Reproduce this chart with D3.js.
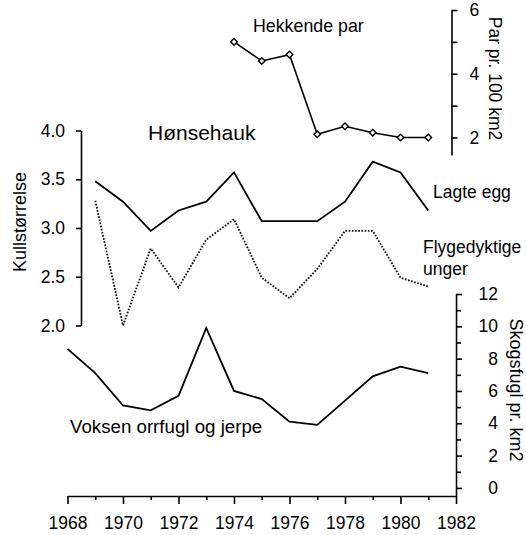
<!DOCTYPE html>
<html>
<head>
<meta charset="utf-8">
<script src="https://cdn.jsdelivr.net/npm/d3@7"></script>
<style>
  html, body { margin: 0; padding: 0; background: #fff; }
  svg { display: block; }
  text { font-family: "Liberation Sans", Arial, sans-serif; fill: #000; }
</style>
</head>
<body>
<svg id="chart" width="526" height="535"></svg>
<script>
// ---- data ----
const kullYears = [1969, 1970, 1971, 1972, 1973, 1974, 1975, 1976, 1977, 1978, 1979, 1980, 1981];
const lagteEgg = [3.48, 3.27, 2.97, 3.18, 3.27, 3.57, 3.07, 3.07, 3.07, 3.27, 3.68, 3.57, 3.18];
const flygedyktigeUnger = [3.28, 2.0, 2.79, 2.39, 2.88, 3.09, 2.49, 2.28, 2.58, 2.97, 2.97, 2.49, 2.40];
const skogYears = [1968, 1969, 1970, 1971, 1972, 1973, 1974, 1975, 1976, 1977, 1978, 1979, 1980, 1981];
const skogsfugl = [8.6, 7.1, 5.1, 4.8, 5.7, 9.9, 6.0, 5.5, 4.1, 3.9, 5.4, 6.9, 7.5, 7.1];
const hekkYears = [1974, 1975, 1976, 1977, 1978, 1979, 1980, 1981];
const hekkendePar = [5.0, 4.4, 4.6, 2.1, 2.35, 2.15, 2.0, 2.0];

const xTickLabels = [1968, 1970, 1972, 1974, 1976, 1978, 1980, 1982];
const xMinorTicks = [1969, 1971, 1973, 1975, 1977, 1979, 1981];
const kullTicks = [2.0, 2.5, 3.0, 3.5, 4.0];
const parTicks = [2, 4, 6];
const parMinor = [3, 5];
const skogTicks = [0, 2, 4, 6, 8, 10, 12];
const skogMinor = [1, 3, 5, 7, 9, 11];

// ---- layout ----
const svg = d3.select("#chart");
const FONT = 17.5;
const xAxisY = 496;

const x = d3.scaleLinear().domain([1968, 1982]).range([67.5, 456]);
const yK = d3.scaleLinear().domain([2.0, 4.0]).range([325.5, 130.5]);
const yP = d3.scaleLinear().domain([1.45, 6]).range([155, 10]);
const yS = d3.scaleLinear().domain([-0.5, 12]).range([xAxisY, 294]);

function styleAxis(g, fs) {
  g.attr("font-family", null).attr("font-size", null);
  g.selectAll("path.domain").attr("stroke", "#000").attr("stroke-width", 1.6);
  g.selectAll(".tick line").attr("stroke", "#000").attr("stroke-width", 1.6);
  g.selectAll(".tick text").attr("font-size", fs).style("fill", "#000");
}

// x axis
const gx = svg.append("g").attr("transform", `translate(0,${xAxisY})`)
  .call(d3.axisBottom(x).tickValues(xTickLabels).tickSize(8).tickSizeOuter(0)
    .tickPadding(13).tickFormat(d3.format("d")));
styleAxis(gx, FONT);
const gxm = svg.append("g").attr("transform", `translate(0,${xAxisY})`)
  .call(d3.axisBottom(x).tickValues(xMinorTicks).tickSize(4).tickFormat(""));
gxm.select("path.domain").remove();
styleAxis(gxm, FONT);

// left axis (Kullstørrelse)
const gk = svg.append("g").attr("transform", "translate(81,0)")
  .call(d3.axisLeft(yK).tickValues(kullTicks).tickSize(5).tickSizeOuter(0)
    .tickPadding(11).tickFormat(d3.format(".1f")));
styleAxis(gk, FONT);

// top right axis (Par pr. 100 km2)
const gp = svg.append("g").attr("transform", "translate(451.5,0)")
  .call(d3.axisRight(yP).tickValues(parTicks).tickSize(6).tickSizeOuter(0)
    .tickPadding(12).tickFormat(d3.format("d")));
styleAxis(gp, FONT);
const gpm = svg.append("g").attr("transform", "translate(451.5,0)")
  .call(d3.axisRight(yP).tickValues(parMinor).tickSize(6).tickFormat(""));
gpm.select("path.domain").remove();
styleAxis(gpm, FONT);

// bottom right axis (Skogsfugl pr. km2)
const gs = svg.append("g").attr("transform", "translate(456,0)")
  .call(d3.axisRight(yS).tickValues(skogTicks).tickSize(6).tickSizeOuter(0)
    .tickPadding(36).tickFormat(d3.format("d")));
styleAxis(gs, FONT);
gs.selectAll(".tick text").attr("text-anchor", "end").attr("x", 42);
const gsm = svg.append("g").attr("transform", "translate(456,0)")
  .call(d3.axisRight(yS).tickValues(skogMinor).tickSize(5).tickFormat(""));
gsm.select("path.domain").remove();
styleAxis(gsm, FONT);

// ---- lines ----
const lineK = (vals, yrs) => d3.line().x((d, i) => x(yrs[i])).y(d => yK(d))(vals);

svg.append("path").attr("d", lineK(lagteEgg, kullYears))
  .attr("fill", "none").attr("stroke", "#000").attr("stroke-width", 1.8)
  .attr("stroke-linejoin", "miter");

svg.append("path").attr("d", lineK(flygedyktigeUnger, kullYears))
  .attr("fill", "none").attr("stroke", "#000").attr("stroke-width", 1.8)
  .attr("stroke-dasharray", "1.6,1.6");

svg.append("path")
  .attr("d", d3.line().x((d, i) => x(skogYears[i])).y(d => yS(d))(skogsfugl))
  .attr("fill", "none").attr("stroke", "#000").attr("stroke-width", 1.8);

svg.append("path")
  .attr("d", d3.line().x((d, i) => x(hekkYears[i])).y(d => yP(d))(hekkendePar))
  .attr("fill", "none").attr("stroke", "#000").attr("stroke-width", 1.6);

svg.append("g").selectAll("path").data(hekkendePar).join("path")
  .attr("d", d3.symbol(d3.symbolSquare, 22)())
  .attr("transform", (d, i) => `translate(${x(hekkYears[i])},${yP(d)}) rotate(45)`)
  .attr("fill", "#fff").attr("stroke", "#000").attr("stroke-width", 1.4);

// ---- labels ----
function label(txt, px, py, fs, anchor) {
  svg.append("text").attr("x", px).attr("y", py).attr("font-size", fs)
    .attr("text-anchor", anchor || "start").text(txt);
}
label("Hønsehauk", 148, 140, 21);
label("Hekkende par", 253, 32, 17.8);
label("Lagte egg", 433, 198, 17.5);
label("Flygedyktige", 423, 253, 17.5);
label("unger", 423, 275, 17.5);
label("Voksen orrfugl og jerpe", 70, 433, 18.7);

svg.append("text").attr("transform", "translate(20,222) rotate(-90)")
  .attr("text-anchor", "middle").attr("dominant-baseline", "central")
  .attr("font-size", 18).text("Kullstørrelse");
svg.append("text").attr("transform", "translate(495,78.5) rotate(90)")
  .attr("text-anchor", "middle").attr("dominant-baseline", "central")
  .attr("font-size", 17.5).text("Par pr. 100 km2");
svg.append("text").attr("transform", "translate(516,390) rotate(90)")
  .attr("text-anchor", "middle").attr("dominant-baseline", "central")
  .attr("font-size", 18).text("Skogsfugl pr. km2");
</script>
</body>
</html>
